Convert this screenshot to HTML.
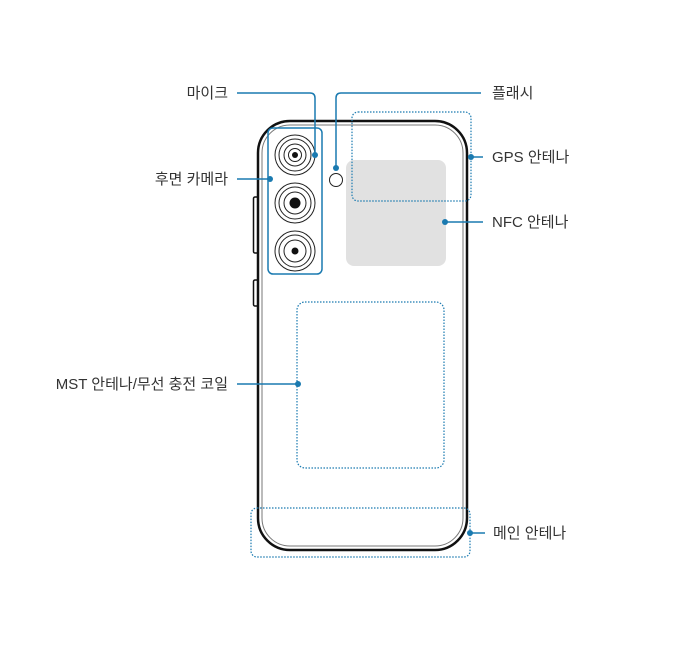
<!DOCTYPE html>
<html><head><meta charset="utf-8"><style>
html,body{margin:0;padding:0;background:#fff;width:699px;height:659px;overflow:hidden}
text{font-family:"Liberation Sans","Noto Sans CJK KR",sans-serif;font-size:15px;fill:#333}
</style></head><body>
<svg width="699" height="659" viewBox="0 0 699 659" xmlns="http://www.w3.org/2000/svg">
<rect x="253.5" y="197" width="5" height="56" rx="1.5" fill="#fff" stroke="#111" stroke-width="1.5"/>
<rect x="253.5" y="280" width="5" height="26" rx="1.5" fill="#fff" stroke="#111" stroke-width="1.5"/>
<rect x="258" y="121" width="209" height="429" rx="32" fill="#fff" stroke="#111" stroke-width="2.5"/>
<rect x="262" y="125" width="201" height="421" rx="28" fill="none" stroke="#777" stroke-width="1"/>
<rect x="346" y="160" width="100" height="106" rx="8" fill="#e1e1e1"/>
<rect x="268" y="128" width="54" height="146" rx="5" fill="none" stroke="#1a7ab0" stroke-width="1.5"/>
<g fill="none" stroke="#222" stroke-width="1">
<circle cx="295" cy="155" r="20"/><circle cx="295" cy="155" r="16"/><circle cx="295" cy="155" r="11"/><circle cx="295" cy="155" r="6.5"/>
<circle cx="295" cy="203" r="20"/><circle cx="295" cy="203" r="16"/><circle cx="295" cy="203" r="11"/>
<circle cx="295" cy="251" r="20"/><circle cx="295" cy="251" r="16"/><circle cx="295" cy="251" r="11"/>
<circle cx="336" cy="180" r="6.5"/>
</g>
<circle cx="295" cy="155" r="3" fill="#111"/>
<circle cx="295" cy="203" r="5.5" fill="#111"/>
<circle cx="295" cy="251" r="3.5" fill="#111"/>
<g fill="none" stroke="#1a7ab0" stroke-width="1.2" stroke-dasharray="1.5 1.5">
<rect x="352" y="112" width="119" height="89" rx="6"/>
<rect x="297" y="302" width="147" height="166" rx="8"/>
<rect x="251" y="508" width="219" height="49" rx="6"/>
</g>
<g fill="none" stroke="#1a7ab0" stroke-width="1.5">
<path d="M237 93 H310 Q315 93 315 98 V155"/>
<path d="M237 179 H270"/>
<path d="M336 168 V98 Q336 93 341 93 H481"/>
<path d="M471 157 H483"/>
<path d="M445 222 H483"/>
<path d="M237 384 H298"/>
<path d="M470 533 H485"/>
</g>
<g fill="#1a7ab0">
<circle cx="315" cy="155" r="3"/><circle cx="270" cy="179" r="3"/><circle cx="336" cy="168" r="3"/>
<circle cx="471" cy="157" r="3"/><circle cx="445" cy="222" r="3"/><circle cx="298" cy="384" r="3"/><circle cx="470" cy="533" r="3"/>
</g>
<text x="228" y="98" text-anchor="end">마이크</text>
<text x="228" y="184" text-anchor="end">후면 카메라</text>
<text x="228" y="389" text-anchor="end">MST 안테나/무선 충전 코일</text>
<text x="492" y="98">플래시</text>
<text x="492" y="162">GPS 안테나</text>
<text x="492" y="227">NFC 안테나</text>
<text x="493" y="538">메인 안테나</text>
</svg>
</body></html>
